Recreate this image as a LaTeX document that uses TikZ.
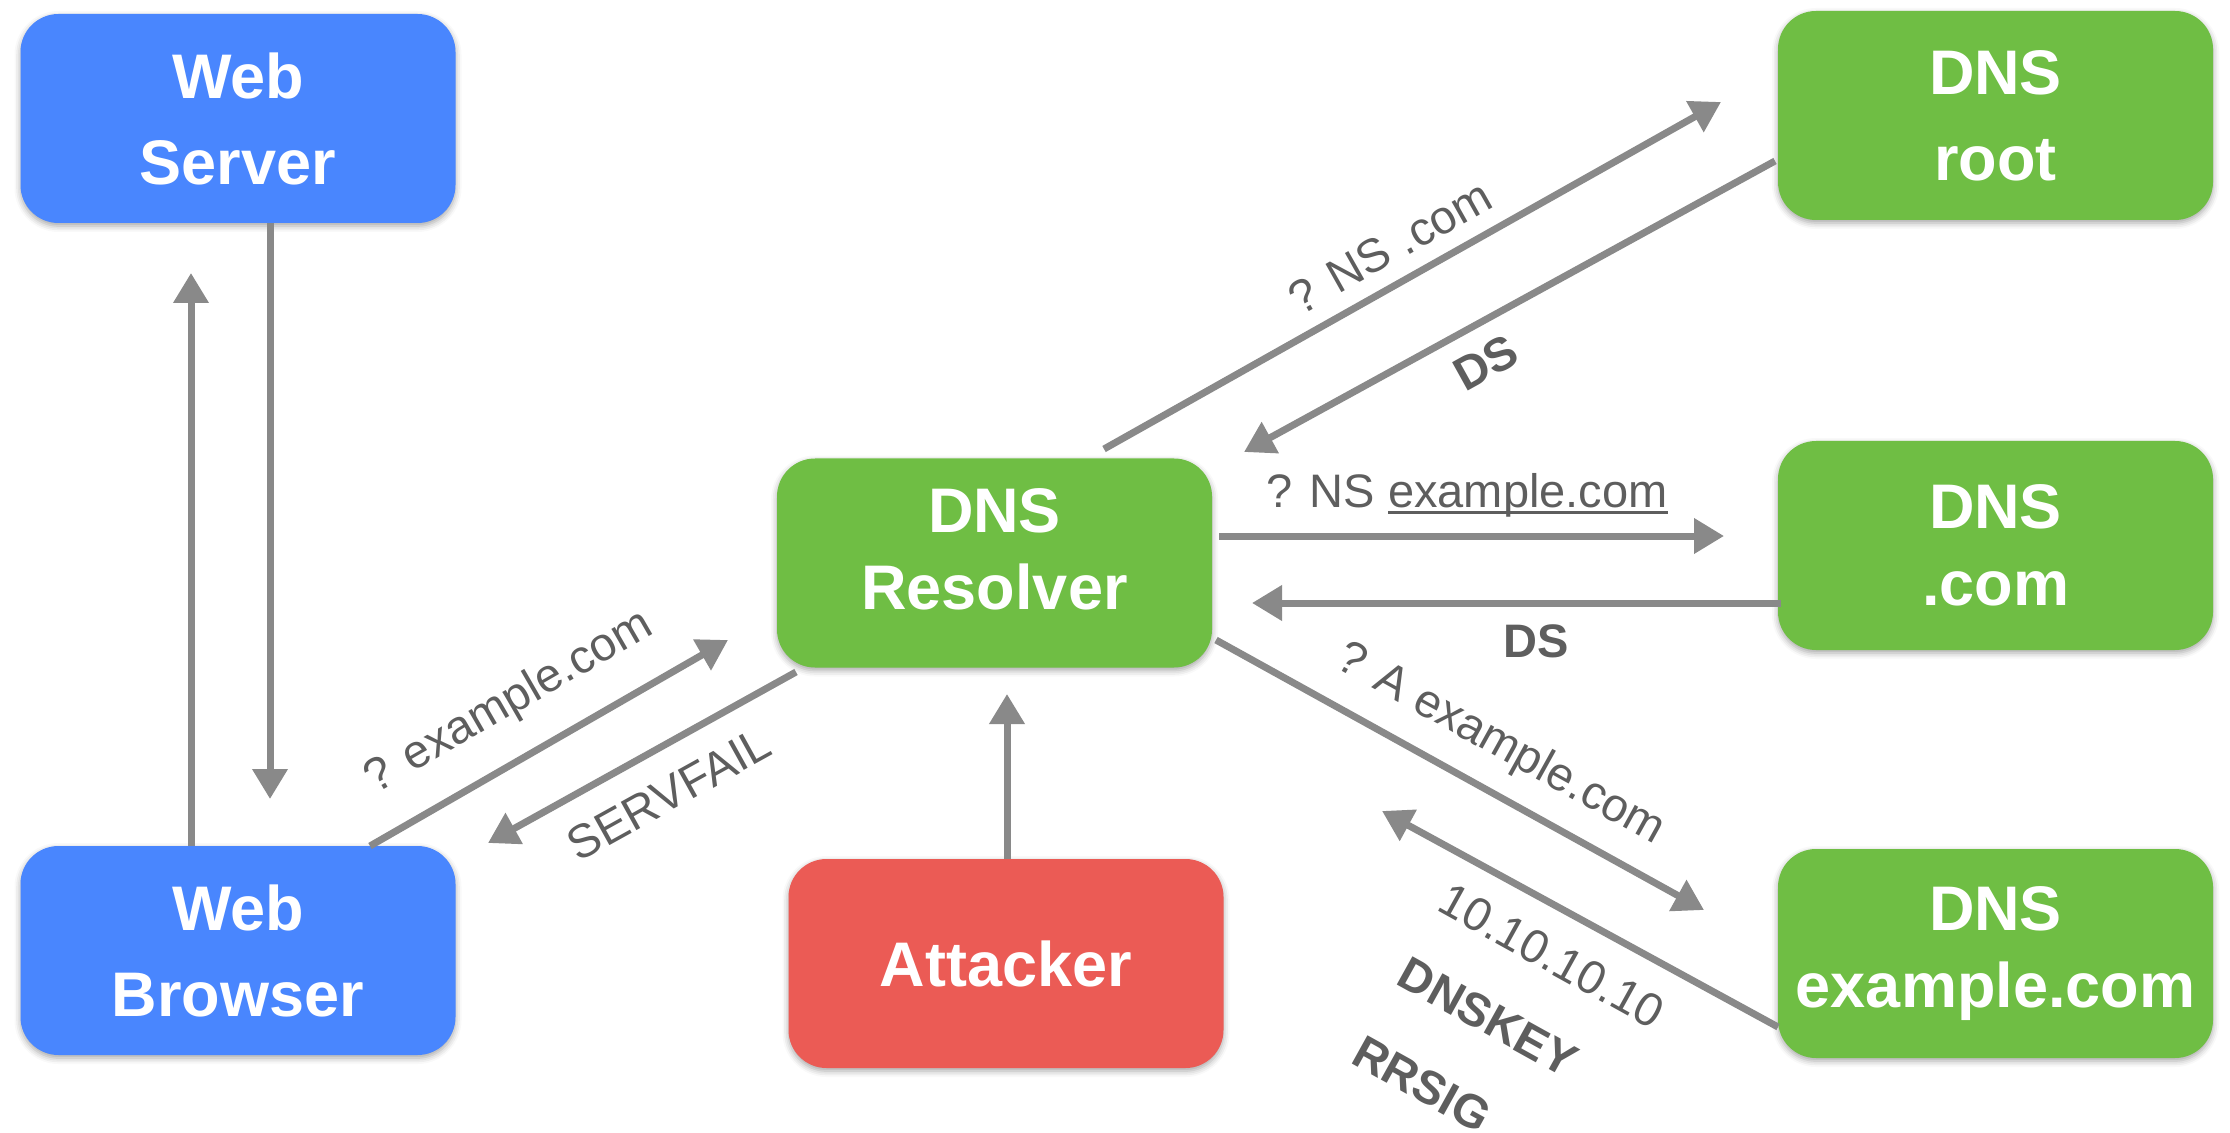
\documentclass[tikz,border=0pt]{standalone}
\usepackage{fontspec}
\setmainfont{Liberation Sans}
\usetikzlibrary{arrows.meta,calc,shadows.blur}
\definecolor{nblue}{RGB}{73,134,254}
\definecolor{ngreen}{RGB}{111,190,68}
\definecolor{nred}{RGB}{235,91,85}
\definecolor{arrgray}{RGB}{137,137,137}
\definecolor{lblgray}{RGB}{94,94,94}
\newcommand\ulbox[1]{\setbox0\hbox{#1}\rlap{\rule[-3pt]{\wd0}{1.3pt}}\box0}
\begin{document}
\begin{tikzpicture}[x=0.5pt,y=-0.5pt,
  box/.style={rounded corners=19pt, minimum width=217.5pt, minimum height=104.5pt,
    inner sep=0pt, text=white, align=center,
    blur shadow={shadow xshift=0pt, shadow yshift=-1.5pt, shadow blur radius=3pt, shadow opacity=35}},
  wide/.style={font=\fontsize{31.5}{43}\selectfont\bfseries},
  narrow/.style={font=\fontsize{31.5}{38.5}\selectfont\bfseries},
  bluebox/.style={box, fill=nblue},
  greenbox/.style={box, fill=ngreen},
  redbox/.style={box, fill=nred},
  arr/.style={draw=arrgray, line width=3.5pt, -{Triangle[length=15pt,width=17pt]}},
  lbl/.style={text=lblgray, inner sep=0pt, font=\fontsize{23.5}{28}\selectfont},
  blbl/.style={text=lblgray, inner sep=0pt, font=\fontsize{23.5}{28}\selectfont\bfseries}
]
\useasboundingbox (0,0) rectangle (2230,1133);

% nodes
\node[bluebox, wide] (ws) at (238,118.5) {Web\\Server};
\node[bluebox, wide] (wb) at (238,950.5) {Web\\Browser};
\node[greenbox, narrow, text depth=14pt] (res) at (994.5,563) {DNS\\Resolver};
\node[redbox, wide] (att) at (1006,963.5) {Attacker};
\node[greenbox, wide] (root) at (1995.5,115.5) {DNS\\root};
\node[greenbox, narrow] (com) at (1995.5,545.5) {DNS\\.com};
\node[greenbox, narrow] (ex) at (1995.5,953.5) {DNS\\example.com};

% connectors
\draw[arr] ($(ws)+(32,104.5)$) -- ($(wb)+(32,-151.5)$);
\draw[arr] ($(wb)+(-47,-104.5)$) -- ($(ws)+(-47,154.5)$);
\draw[arr] ($(wb)+(132,-104.5)$) -- ($(res)+(-266.5,77)$);
\draw[arr] ($(res)+(-198.5,109)$) -- ($(wb)+(250,-107.5)$);
\draw[arr] ($(att)+(1,-104.5)$) -- ($(res)+(12.5,131)$);
\draw[arr] ($(res)+(109.5,-114)$) -- ($(root)+(-274.5,-13.5)$);
\draw[arr] ($(root)+(-220.5,45.5)$) -- ($(res)+(249.5,-111)$);
\draw[arr] ($(res)+(224.5,-27)$) -- ($(com)+(-271.5,-9.5)$);
\draw[arr] ($(com)+(-214.5,57.5)$) -- ($(res)+(257.5,40)$);
\draw[arr] ($(res)+(221.5,77)$) -- ($(ex)+(-291.5,-43.5)$);
\draw[arr] ($(ex)+(-217.5,73.5)$) -- ($(res)+(387.5,248)$);

% labels
\node[lbl, rotate=30] (l1) at (509,703) {? example.com};
\node[lbl, rotate=29] (l2) at (669,794) {SERVFAIL};
\node[lbl, rotate=29.4] (l3) at (1390,247) {? NS .com};
\node[blbl, rotate=29] (l4) at (1486,363) {DS};
\node[lbl, anchor=base] (l5) at (1467,508) {? NS \ulbox{example.com}};
\node[blbl, anchor=base] (l6) at (1536,657) {DS};
\node[lbl, rotate=-29] (l7) at (1500,745) {? A example.com};
\node[lbl, rotate=-29] (l8) at (1552,956) {10.10.10.10};
\node[blbl, rotate=-29] (l9) at (1488,1017) {DNSKEY};
\node[blbl, rotate=-29] (l10) at (1422,1084) {RRSIG};
\end{tikzpicture}
\end{document}
